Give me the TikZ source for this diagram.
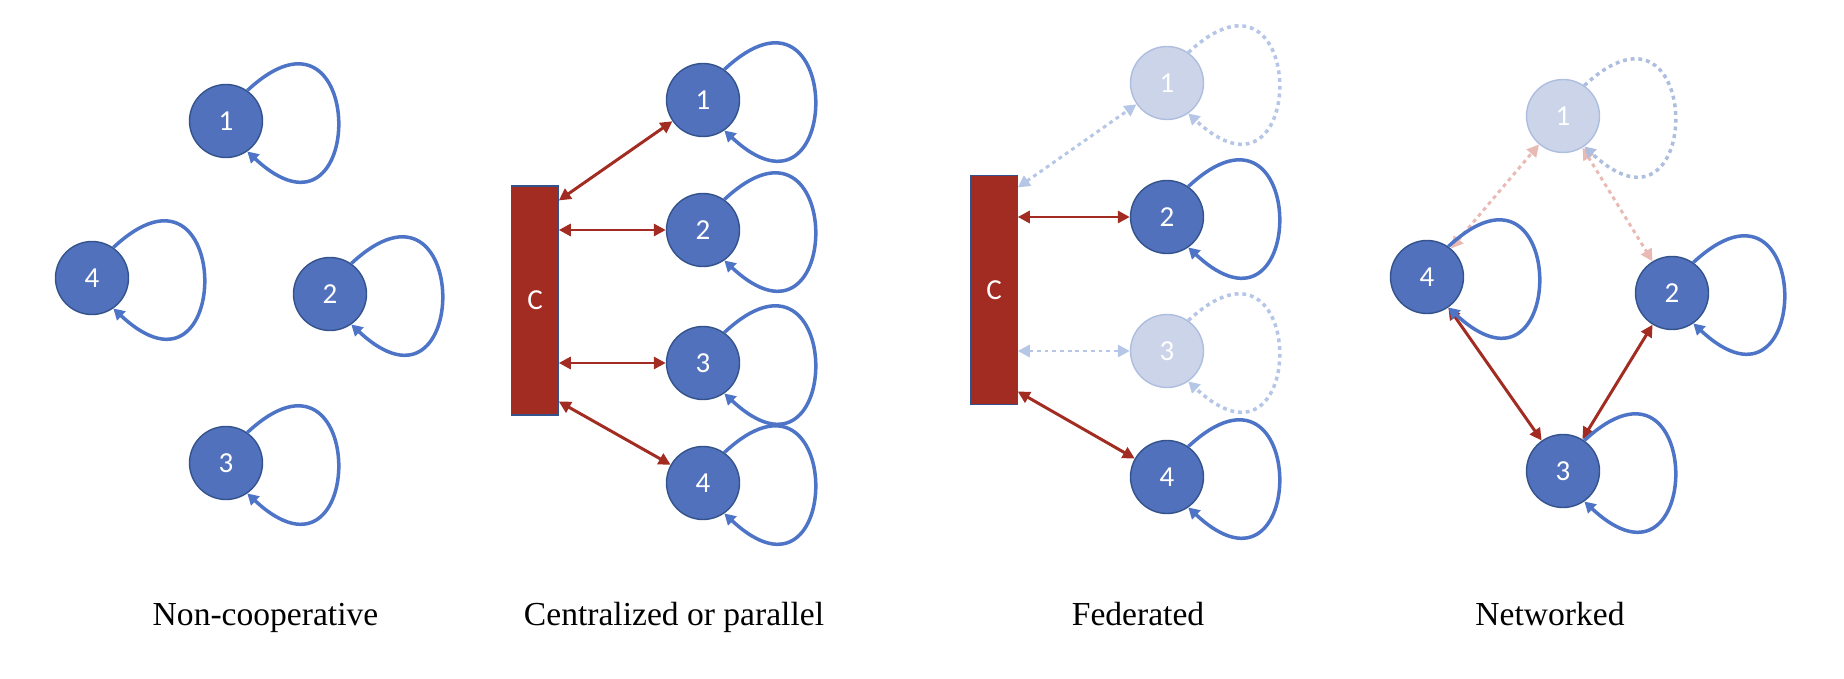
\documentclass[tikz,border=0pt]{standalone}
\usepackage{fontspec}
\setmainfont{Liberation Serif}
\newfontfamily\agentfont{Carlito}
\usetikzlibrary{arrows.meta}
\definecolor{CoopBlue}{HTML}{5171BD}
\definecolor{CoopEdge}{HTML}{34538C}
\definecolor{CoopLoop}{HTML}{4D74C6}
\definecolor{CoopRed}{HTML}{A22C21}
\definecolor{CoopPale}{HTML}{CBD4E9}
\definecolor{CoopPaleEdge}{HTML}{AEBEDF}
\definecolor{CoopPaleLoop}{HTML}{B6C6E6}
\definecolor{CoopPaleRed}{HTML}{E8BAB3}
\tikzset{
  coopagent/.style={
    circle,
    draw=CoopEdge,
    line width=0.8pt,
    fill=CoopBlue,
    minimum size=1.46cm,
    inner sep=0pt,
    text=white,
    font=\agentfont\fontsize{16.5}{18}\selectfont
  },
  coopfaded/.style={
    coopagent,
    draw=CoopPaleEdge,
    fill=CoopPale
  },
  coophub/.style={
    rectangle,
    draw=CoopEdge,
    line width=0.6pt,
    fill=CoopRed,
    minimum width=0.93cm,
    minimum height=4.58cm,
    inner sep=0pt,
    text=white,
    font=\agentfont\fontsize{16.5}{18}\selectfont
  },
  cooploop/.style={-{Triangle[length=2.2mm,width=2.4mm]},line width=2pt,draw=CoopLoop},
  coopfadedloop/.style={cooploop,draw=CoopPaleLoop,dash pattern=on 2.2pt off 2.2pt},
  cooplink/.style={{Triangle[length=2.4mm,width=2.4mm]}-{Triangle[length=2.4mm,width=2.4mm]},line width=1.7pt,draw=CoopRed},
  coopfadedlink/.style={cooplink,draw=CoopPaleLoop,dash pattern=on 2.2pt off 2.2pt},
  coopfadedtie/.style={cooplink,draw=CoopPaleRed,dash pattern=on 2.2pt off 2.2pt},
  cooptitle/.style={anchor=base,font=\fontsize{19.1}{22}\selectfont}
}

\begin{document}
\begin{tikzpicture}
  \useasboundingbox (0,0) rectangle (36.88,13.56);

  % non-cooperative
  \node[coopagent] (a1) at (4.52,11.14) {1};
  \node[coopagent] (a4) at (1.84,8.00) {4};
  \node[coopagent] (a2) at (6.60,7.68) {2};
  \node[coopagent] (a3) at (4.52,4.30) {3};

  % centralized
  \node[coophub] (hub2) at (10.70,7.55) {C};
  \node[coopagent] (b1) at (14.06,11.56) {1};
  \node[coopagent] (b2) at (14.06,8.96) {2};
  \node[coopagent] (b3) at (14.06,6.30) {3};
  \node[coopagent] (b4) at (14.06,3.90) {4};
  \draw[cooplink] ([yshift=-0.3cm]hub2.north east) -- (b1);
  \draw[cooplink] (hub2.east |- b2) -- (b2);
  \draw[cooplink] (hub2.east |- b3) -- (b3);
  \draw[cooplink] ([yshift=0.28cm]hub2.south east) -- (b4);

  % federated
  \node[coophub] (hub3) at (19.88,7.76) {C};
  \node[coopfaded] (c1) at (23.34,11.90) {1};
  \node[coopagent] (c2) at (23.34,9.22) {2};
  \node[coopfaded] (c3) at (23.34,6.54) {3};
  \node[coopagent] (c4) at (23.34,4.02) {4};
  \draw[coopfadedlink] ([yshift=-0.25cm]hub3.north east) -- (c1);
  \draw[cooplink] (hub3.east |- c2) -- (c2);
  \draw[coopfadedlink] (hub3.east |- c3) -- (c3);
  \draw[cooplink] ([yshift=0.27cm]hub3.south east) -- (c4);

  % networked
  \node[coopfaded] (d1) at (31.26,11.24) {1};
  \node[coopagent] (d4) at (28.54,8.02) {4};
  \node[coopagent] (d2) at (33.44,7.70) {2};
  \node[coopagent] (d3) at (31.26,4.14) {3};
  \draw[coopfadedtie] (d4) -- (d1);
  \draw[coopfadedtie] (d1) -- (d2);
  \draw[cooplink] (d4) -- (d3);
  \draw[cooplink] (d3) -- (d2);

  % self loops
  \foreach \n in {a1,a2,a3,a4,b1,b2,b3,b4,c2,c4,d2,d3,d4}
    \draw[cooploop] (\n.55) .. controls +(43:3.3) and +(-43:3.3) .. (\n.-55);
  \foreach \n in {c1,c3}
    \draw[coopfadedloop] (\n.55) .. controls +(43:3.3) and +(-43:3.3) .. (\n.-55);
  \draw[coopfadedloop,draw=CoopPaleEdge] (d1.55) .. controls +(43:3.3) and +(-43:3.3) .. (d1.-55);

  \node[cooptitle] (t1) at (5.31,1.06) {Non-cooperative};
  \node[cooptitle] (t2) at (13.48,1.06) {Centralized or parallel};
  \node[cooptitle] (t3) at (22.76,1.06) {Federated};
  \node[cooptitle] (t4) at (31.00,1.06) {Networked};
\end{tikzpicture}
\end{document}
